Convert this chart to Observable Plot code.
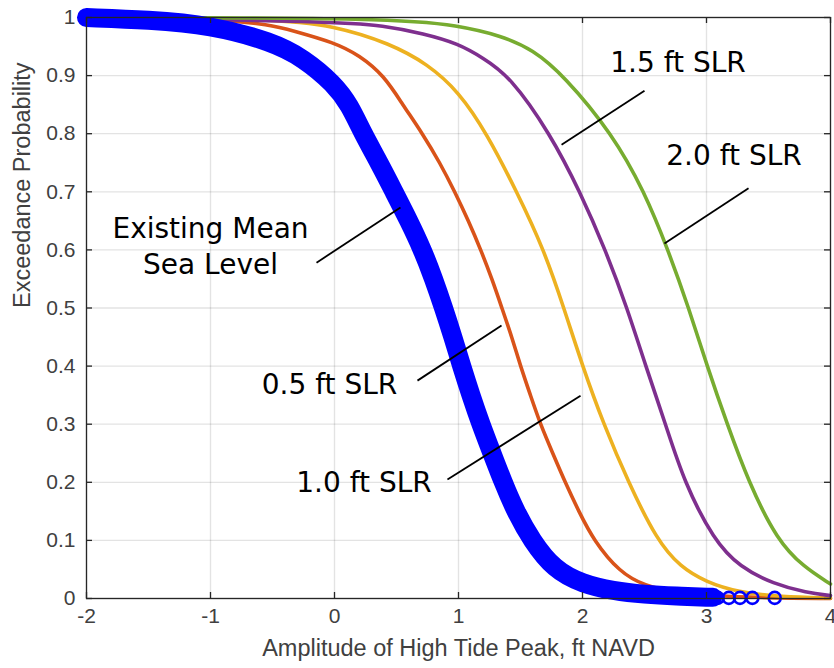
<!DOCTYPE html>
<html><head><meta charset="utf-8">
<script src="https://cdn.jsdelivr.net/npm/d3@7"></script>
<script src="https://cdn.jsdelivr.net/npm/@observablehq/plot@0.6"></script>
<style>body{margin:0;background:#fff;}</style>
</head><body><div id="chart"></div>
<script>
// ---- data ----
const existingX = [-2.0, -1.5, -1.0, -0.5, -0.25, 0.0, 0.12, 0.23, 0.36, 0.48, 0.60, 0.71, 0.80, 0.88, 0.955, 1.025, 1.10, 1.18, 1.27, 1.36, 1.46, 1.59, 1.77, 2.0, 2.25, 2.5, 2.75, 3.05];
const existingY = [1.0, 0.996, 0.987, 0.958, 0.93, 0.885, 0.85, 0.80, 0.75, 0.70, 0.65, 0.60, 0.55, 0.50, 0.45, 0.40, 0.35, 0.30, 0.25, 0.20, 0.15, 0.10, 0.05, 0.025, 0.013, 0.007, 0.004, 0.002];
const existingTailX = [3.09, 3.18, 3.27, 3.37, 3.55];
const existingTailY = [0.001, 0.001, 0.001, 0.001, 0.001];

const slr05X = [-2.0, -1.0, -0.5, -0.35, 0.0, 0.2, 0.4, 0.55, 0.71, 0.85, 0.97, 1.08, 1.18, 1.27, 1.35, 1.43, 1.50, 1.58, 1.66, 1.76, 1.86, 1.97, 2.09, 2.3, 2.5, 2.75, 3.0, 3.5, 4.0];
const slr05Y = [1.0, 0.999, 0.987, 0.978, 0.957, 0.935, 0.90, 0.85, 0.80, 0.75, 0.70, 0.65, 0.60, 0.55, 0.50, 0.45, 0.40, 0.35, 0.30, 0.25, 0.20, 0.15, 0.10, 0.045, 0.022, 0.010, 0.005, 0.001, 0.0];

const slr10X = [-2.0, -0.5, 0.0, 0.45, 0.75, 1.0, 1.23, 1.47, 1.69, 1.85, 2.0, 2.17, 2.37, 2.60, 2.79, 3.0, 3.25, 3.6, 4.0];
const slr10Y = [1.0, 0.998, 0.986, 0.955, 0.92, 0.873, 0.80, 0.70, 0.60, 0.50, 0.40, 0.30, 0.20, 0.10, 0.054, 0.028, 0.011, 0.003, 0.001];

const slr15X = [-2.0, 0.0, 0.4, 0.72, 1.0, 1.2, 1.41, 1.74, 1.98, 2.185, 2.36, 2.51, 2.67, 2.82, 3.06, 3.27, 3.54, 3.81, 4.0];
const slr15Y = [1.0, 0.993, 0.986, 0.972, 0.955, 0.93, 0.90, 0.80, 0.70, 0.60, 0.50, 0.40, 0.30, 0.20, 0.10, 0.054, 0.025, 0.010, 0.005];

const slr20X = [-2.0, 0.5, 1.0, 1.34, 1.6, 1.85, 2.24, 2.50, 2.69, 2.857, 3.005, 3.167, 3.34, 3.57, 3.785, 4.0];
const slr20Y = [1.0, 0.999, 0.986, 0.969, 0.945, 0.90, 0.80, 0.70, 0.60, 0.50, 0.40, 0.30, 0.20, 0.10, 0.054, 0.025];

const xTicks = [-2, -1, 0, 1, 2, 3, 4];
const yTicks = [0, 0.1, 0.2, 0.3, 0.4, 0.5, 0.6, 0.7, 0.8, 0.9, 1];

const noteText = ["Existing Mean", "Sea Level", "0.5 ft SLR", "1.0 ft SLR", "1.5 ft SLR", "2.0 ft SLR"];
const noteX = [-1.0, -1.0, -0.04, 0.238, 2.77, 3.222];
const noteY = [0.636, 0.574, 0.368, 0.199, 0.921, 0.762];

const leaderX1 = [-0.145, 0.669, 0.911, 1.831, 2.661];
const leaderY1 = [0.578, 0.375, 0.205, 0.781, 0.611];
const leaderX2 = [0.532, 1.347, 1.984, 2.50, 3.339];
const leaderY2 = [0.673, 0.470, 0.349, 0.874, 0.706];

const xLabel = "Amplitude of High Tide Peak, ft NAVD";
const yLabel = "Exceedance Probability";

// ---- build tables ----
const rows = (xs, ys) => xs.map((x, i) => ({x, y: ys[i]}));
const existing = rows(existingX, existingY);
const tail = rows(existingTailX, existingTailY);
const series = [
  {d: rows(slr05X, slr05Y), c: "#D95319"},
  {d: rows(slr10X, slr10Y), c: "#EDB120"},
  {d: rows(slr15X, slr15Y), c: "#7E2F8E"},
  {d: rows(slr20X, slr20Y), c: "#77AC30"}
];
const notes = noteText.map((t, i) => ({t, x: noteX[i], y: noteY[i]}));
const leaders = leaderX1.map((x1, i) => ({x1, y1: leaderY1[i], x2: leaderX2[i], y2: leaderY2[i]}));

const W = 834, H = 668, mL = 86, mR = 4, mT = 17, mB = 70;
const fw = W - mL - mR, fh = H - mT - mB;
const axisColor = "#262626";
const tickText = "#404040";

const chart = Plot.plot({
  width: W, height: H,
  marginLeft: mL, marginRight: mR, marginTop: mT, marginBottom: mB,
  x: {domain: [-2, 4], axis: null},
  y: {domain: [0, 1], axis: null},
  style: {fontFamily: "'Liberation Sans', Arial, sans-serif", background: "#fff"},
  marks: [
    Plot.ruleX(xTicks, {x: d => d, stroke: axisColor, strokeOpacity: 0.13, strokeWidth: 1.3}),
    Plot.ruleY(yTicks, {y: d => d, stroke: axisColor, strokeOpacity: 0.13, strokeWidth: 1.3}),
    ...series.map(s => Plot.line(s.d, {x: "x", y: "y", stroke: s.c, strokeWidth: 3.6, curve: "basis"})),
    Plot.line(existing, {x: "x", y: "y", stroke: "#0000ff", strokeWidth: 19, strokeLinecap: "round", strokeLinejoin: "round", curve: "basis"}),
    Plot.dot(tail, {x: "x", y: "y", r: 6, stroke: "#0000ff", strokeWidth: 2.6, fill: "none"}),
    Plot.frame({stroke: axisColor, strokeWidth: 1.3}),
    Plot.tickX(xTicks, {x: d => d, insetTop: fh - 6, stroke: axisColor, strokeWidth: 1.3}),
    Plot.tickX(xTicks, {x: d => d, insetBottom: fh - 6, stroke: axisColor, strokeWidth: 1.3}),
    Plot.tickY(yTicks, {y: d => d, insetRight: fw - 6, stroke: axisColor, strokeWidth: 1.3}),
    Plot.tickY(yTicks, {y: d => d, insetLeft: fw - 6, stroke: axisColor, strokeWidth: 1.3}),
    Plot.text(xTicks, {x: d => d, frameAnchor: "bottom", dy: 24, text: d => String(d), fontSize: 21, fill: tickText}),
    Plot.text(yTicks, {y: d => d, frameAnchor: "left", dx: -11, textAnchor: "end", text: d => String(d), fontSize: 21, fill: tickText}),
    Plot.text([xLabel], {frameAnchor: "bottom", dy: 57.5, text: d => d, fontSize: 23.5, fill: tickText}),
    Plot.text([yLabel], {frameAnchor: "left", dx: -64, rotate: -90, text: d => d, fontSize: 23.5, fill: tickText}),
    Plot.link(leaders, {x1: "x1", y1: "y1", x2: "x2", y2: "y2", stroke: "#000", strokeWidth: 1.8}),
    Plot.text(notes, {x: "x", y: "y", text: "t", fontSize: 28, fill: "#000", fontFamily: "'DejaVu Sans', Verdana, sans-serif"})
  ]
});
document.getElementById("chart").appendChild(chart);
</script>
</body></html>
